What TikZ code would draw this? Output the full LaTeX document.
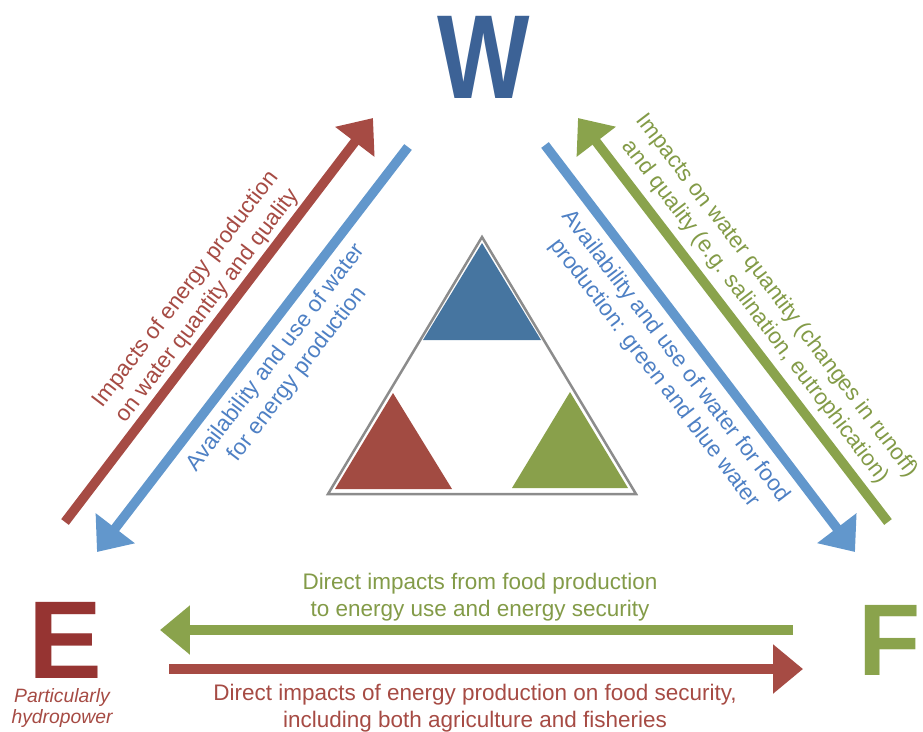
\documentclass[tikz,border=0pt]{standalone}
\usepackage{fontspec}
\setmainfont{Liberation Sans}
\usetikzlibrary{arrows.meta}

\definecolor{wblue}{RGB}{60,98,150}
\definecolor{ered}{RGB}{150,52,50}
\definecolor{fgreen}{RGB}{138,163,76}
\definecolor{linered}{RGB}{166,75,68}
\definecolor{lineblue}{RGB}{98,151,204}
\definecolor{textblue}{RGB}{78,128,196}
\definecolor{tripblue}{RGB}{70,117,160}
\definecolor{tripred}{RGB}{162,75,66}
\definecolor{tripgreen}{RGB}{137,160,75}

\begin{document}
\begin{tikzpicture}[x=0.02cm,y=-0.02cm,
                    fat/.style={line width=0.19cm,-{Triangle[length=0.6cm,width=0.95cm]}},
                    txt/.style={font=\fontsize{12.8}{15.4}\selectfont,align=center,inner sep=0pt},
                    letter/.style={font=\bfseries\fontsize{#1}{#1}\selectfont,inner sep=0pt}]

  \useasboundingbox (0,0) rectangle (923,731);

  % the three corners
  \node[letter=68,text=wblue,xscale=0.82] (W) at (484,57) {W};
  \node[letter=63,text=ered] (E) at (65,640) {E};
  \node[letter=58,text=fgreen] (F) at (890,640) {F};
  \node[txt,font=\itshape\fontsize{11}{11.4}\selectfont,text=linered] (hydro) at (62,708) {Particularly\\hydropower};

  % arrow ends
  \coordinate (1) at (65,522);   \coordinate (2) at (373,118);
  \coordinate (3) at (408,147);  \coordinate (4) at (97,552);
  \coordinate (5) at (888,522);  \coordinate (6) at (578,118);
  \coordinate (7) at (545,145);  \coordinate (8) at (855,552);
  \coordinate (9) at (793,630);  \coordinate (10) at (160,630);
  \coordinate (11) at (169,669); \coordinate (12) at (803,669);

  \path[fat]
    (1) edge[linered] (2)
    (3) edge[lineblue] (4)
    (5) edge[fgreen] (6)
    (7) edge[lineblue] (8)
    (9) edge[fgreen] (10)
    (11) edge[linered] (12);

  % labels
  \node[txt,text=linered,rotate=52.7] (ew) at (197,298)
    {Impacts of energy production\\on water quantity and quality};
  \node[txt,text=textblue,rotate=52.7] (we) at (287,366)
    {Availability and use of water\\for energy production};
  \node[txt,text=fgreen!95!black,rotate=-52.7] (fw) at (766,304)
    {Impacts on water quantity (changes in runoff)\\and quality (e.g. salination, eutrophication)};
  \node[txt,text=textblue,rotate=-52.7] (wf) at (665,365)
    {Availability and use of water for food\\production: green and blue water};
  \node[txt,text=fgreen!95!black] (fe) at (480,597)
    {Direct impacts from food production\\to energy use and energy security};
  \node[txt,text=linered] (ef) at (475,708)
    {Direct impacts of energy production on food security,\\including both agriculture and fisheries};

  % nexus triangle
  \draw[line width=0.05cm,black!45] (328,494) -- (482,237) -- (636,494) -- cycle;
  \fill[tripblue] (482,243) -- (541,340) -- (423,340) -- cycle;
  \fill[tripred] (393,393) -- (452,489) -- (335,489) -- cycle;
  \fill[tripgreen] (570,392) -- (628,488) -- (512,488) -- cycle;
\end{tikzpicture}
\end{document}
